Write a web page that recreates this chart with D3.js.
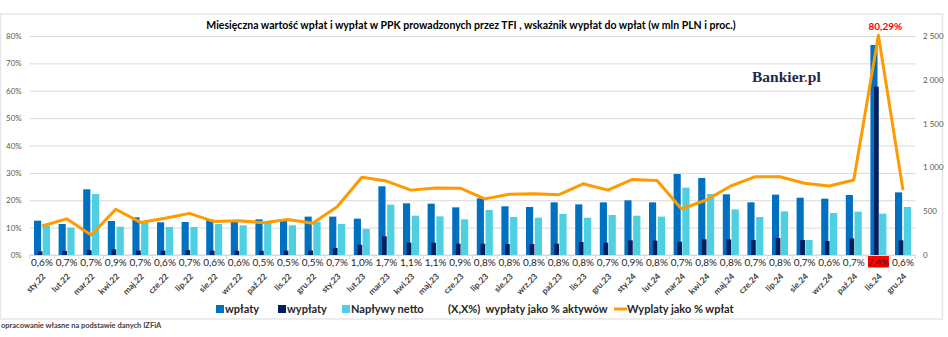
<!DOCTYPE html>
<html>
<head>
<meta charset="utf-8">
<style>
  body { margin: 0; background: #fff; }
  svg text { font-family: Lato, "Open Sans", sans-serif; }
  .axis .domain { display: none; }
</style>
</head>
<body>
<script src="https://d3js.org/d3.v7.min.js"></script>
<script>
var months = ["sty.22","lut.22","mar.22","kwi.22","maj.22","cze.22","lip.22","sie.22","wrz.22","paź.22","lis.22","gru.22",
              "sty.23","lut.23","mar.23","kwi.23","maj.23","cze.23","lip.23","sie.23","wrz.23","paź.23","lis.23","gru.23",
              "sty.24","lut.24","mar.24","kwi.24","maj.24","cze.24","lip.24","sie.24","wrz.24","paź.24","lis.24","gru.24"];
// mln PLN
var wplaty  = [392,354,750,388,430,373,377,407,384,407,388,438,
               438,415,784,590,586,544,647,556,548,601,578,601,
               624,601,925,879,693,601,689,654,643,685,2397,715];
var wyplaty = [42,47,55,65,51,50,57,50,48,48,50,51,
               80,118,213,141,141,129,129,126,126,129,148,141,
               167,164,152,179,179,171,194,171,160,190,1921,167];
var netto   = [335,312,696,323,373,320,320,354,339,365,339,380,
               354,297,575,449,441,407,514,434,426,468,426,457,
               449,438,769,696,521,434,498,171,479,495,472,548];
// wypłaty jako % wpłat
var ratio   = [10.6,13.2,7.3,16.7,11.9,13.4,15.2,12.2,12.5,11.8,13.0,11.6,
               17.6,28.4,27.0,23.7,24.5,24.4,20.5,22.2,22.4,22.0,26.0,23.7,
               27.6,27.2,16.8,20.1,25.2,28.6,28.6,26.2,25.2,27.4,80.29,23.7];
// wypłaty jako % aktywów
var pctAssets = ["0,6","0,7","0,7","0,9","0,7","0,6","0,7","0,6","0,6","0,5","0,5","0,5",
                 "0,7","1,0","1,7","1,1","1,1","0,9","0,8","0,8","0,8","0,8","0,8","0,7",
                 "0,9","0,8","0,7","0,8","0,8","0,7","0,8","0,7","0,6","0,7","7,4","0,6"];
var leftTicks = [0,10,20,30,40,50,60,70,80];
var rightTicks = [0,500,1000,1500,2000,2500];

var W = 948, H = 337;
var cBlue = "#0070C0", cNavy = "#002060", cCyan = "#4FD0E2", cOrange = "#FF9A00";

var svg = d3.select("body").append("svg").attr("width", W).attr("height", H);

// ramka wykresu
svg.append("rect").attr("x", 0.5).attr("y", 14).attr("width", 942).attr("height", 305)
   .attr("fill", "#fff").attr("stroke", "#E6E6E6").attr("stroke-width", 1.5);

var x = d3.scaleBand().domain(months).range([29.7, 915.3]).padding(0);
var yL = d3.scaleLinear().domain([0, 80]).range([255, 36]);
var yR = d3.scaleLinear().domain([0, 2500]).range([255, 36]);
var bw = x.bandwidth();
var cx = function(i) { return x(months[i]) + bw / 2; };

// siatka + lewa oś
var gl = svg.append("g").attr("class", "axis").attr("transform", "translate(29.7,0)")
  .call(d3.axisLeft(yL).tickValues(leftTicks).tickFormat(d => d + "%").tickSize(-(915.3 - 29.7)).tickPadding(8));
gl.selectAll(".tick line").attr("stroke", "#D9D9D9").attr("stroke-width", 1);
gl.selectAll(".tick text").attr("fill", "#595959").attr("font-size", 8);

// prawa oś
var gr = svg.append("g").attr("class", "axis").attr("transform", "translate(923,0)")
  .call(d3.axisRight(yR).tickValues(rightTicks).tickFormat(d => d3.format(",")(d).replace(",", " ")).tickSize(0).tickPadding(0));
gr.selectAll(".tick text").attr("fill", "#595959").attr("font-size", 8);

// oś kategorii
svg.append("line").attr("x1", 29.7).attr("x2", 915.3).attr("y1", 255).attr("y2", 255).attr("stroke", "#D9D9D9");
svg.append("g").selectAll("line").data(d3.range(months.length + 1)).join("line")
  .attr("x1", d => 29.7 + d * bw).attr("x2", d => 29.7 + d * bw)
  .attr("y1", 255).attr("y2", 259).attr("stroke", "#D9D9D9");

// słupki
svg.append("g").selectAll("rect").data(wplaty).join("rect")
  .attr("x", (d, i) => cx(i) - 0.325 * bw).attr("width", 0.29 * bw)
  .attr("y", d => yR(d)).attr("height", d => yR(0) - yR(d)).attr("fill", cBlue);
svg.append("g").selectAll("rect").data(netto).join("rect")
  .attr("x", (d, i) => cx(i) + 0.03 * bw).attr("width", 0.295 * bw)
  .attr("y", d => yR(d)).attr("height", d => yR(0) - yR(d)).attr("fill", cCyan);
svg.append("g").selectAll("rect").data(wyplaty).join("rect")
  .attr("x", (d, i) => cx(i) - 0.175 * bw).attr("width", 0.19 * bw)
  .attr("y", d => yR(d)).attr("height", d => yR(0) - yR(d)).attr("fill", cNavy);

// linia wskaźnika
svg.append("path").datum(ratio)
  .attr("fill", "none").attr("stroke", cOrange).attr("stroke-width", 3).attr("stroke-linejoin", "round")
  .attr("d", d3.line().x((d, i) => cx(i)).y(d => yL(d)));

var iMax = ratio.indexOf(d3.max(ratio));
svg.append("text").attr("x", cx(iMax) + 7).attr("y", yL(ratio[iMax]) - 5)
  .attr("text-anchor", "middle").attr("font-size", 10).attr("font-weight", "bold").attr("fill", "#FF0000")
  .text(String(ratio[iMax]).replace(".", ",") + "%");

// etykiety % aktywów
var iHi = pctAssets.indexOf("7,4");
svg.append("rect").attr("x", cx(iHi) - 10.5).attr("y", 256).attr("width", 21).attr("height", 11.5).attr("fill", "#FF0000");
svg.append("g").selectAll("text").data(pctAssets).join("text")
  .attr("x", (d, i) => cx(i)).attr("y", 266)
  .attr("text-anchor", "middle").attr("font-size", 10).attr("fill", "#262626")
  .text(d => d + "%");

// etykiety miesięcy
svg.append("g").selectAll("text").data(months).join("text")
  .attr("transform", (d, i) => "translate(" + (cx(i) + 2) + ",275) rotate(-45)")
  .attr("text-anchor", "end").attr("dy", "0.35em")
  .attr("font-size", 8.5).attr("font-weight", "bold").attr("fill", "#404040")
  .text(d => d);

// tytuł
svg.append("text").attr("x", 471).attr("y", 29).attr("text-anchor", "middle")
  .attr("font-size", 10.5).attr("font-weight", "bold").attr("fill", "#000")
  .text("Miesięczna wartość wpłat i wypłat w PPK prowadzonych przez TFI , wskaźnik wypłat do wpłat (w mln PLN i proc.)");

// logo
var logo = svg.append("text").attr("x", 752).attr("y", 82)
  .style("font-family", "'Liberation Serif', 'DejaVu Serif', serif").attr("font-size", 15.5).attr("font-weight", "bold").attr("fill", "#1B2A47");
logo.append("tspan").text("Bankier");
logo.append("tspan").attr("fill", "#E8452C").text(".");
logo.append("tspan").text("pl");

// legenda
var leg = svg.append("g").attr("font-size", 11).attr("font-weight", "bold").attr("fill", "#262626");
[[216, cBlue, "wpłaty"], [278, cNavy, "wypłaty"], [342, cCyan, "Napływy netto"]].forEach(function(l) {
  leg.append("rect").attr("x", l[0]).attr("y", 305).attr("width", 8).attr("height", 8).attr("fill", l[1]);
  leg.append("text").attr("x", l[0] + 9).attr("y", 313).text(l[2]);
});
leg.append("text").attr("x", 448).attr("y", 313).attr("xml:space", "preserve").text("(X,X%)  wypłaty jako % aktywów");
leg.append("line").attr("x1", 614).attr("x2", 627).attr("y1", 309).attr("y2", 309).attr("stroke", cOrange).attr("stroke-width", 3);
leg.append("text").attr("x", 627).attr("y", 313).text("Wyplaty jako % wpłat");

// źródło
svg.append("text").attr("x", 1).attr("y", 328).attr("font-size", 7.5).attr("font-weight", "bold").attr("fill", "#404040")
  .text("opracowanie własne na podstawie danych IZFiA");
</script>
</body>
</html>
